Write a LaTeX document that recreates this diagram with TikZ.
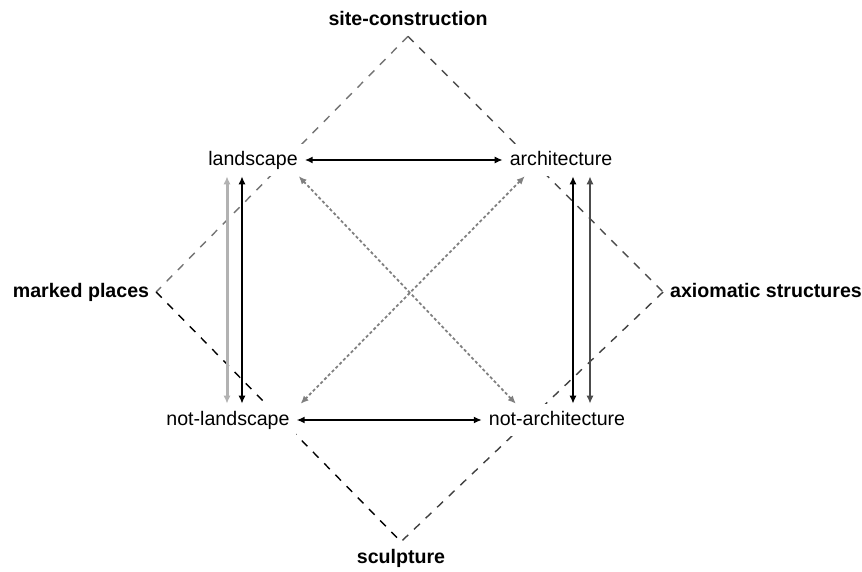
\documentclass[tikz,border=0pt]{standalone}
\usepackage{fontspec}
\setmainfont{Liberation Sans}
\usetikzlibrary{positioning,arrows.meta}

\begin{document}
\begin{tikzpicture}[
            x=0.5pt, y=-0.5pt,
            >={Latex[length=4pt,width=3.5pt]},
            term/.style={font=\fontsize{9.8}{11}\selectfont, text height=7.2pt, text depth=2pt, fill=white},
            corner/.style={term, font=\fontsize{9.8}{11}\selectfont\bfseries, fill=none},
            link/.style={dash pattern=on 4pt off 4pt, line width=0.7pt},
            cross/.style={<->, gray, line width=0.9pt, dash pattern=on 1.5pt off 1.2pt}
        ]
            \useasboundingbox (0,0) rectangle (862,572);

            \node[corner] (site) at (408,20) {site-construction};
            \node[corner] (marked) at (81,292) {marked places};
            \node[corner] (axiom) at (766,292) {axiomatic structures};
            \node[corner] (sculpt) at (401,558) {sculpture};

            % outer square of the expanded field
            \draw[link, black!55] (site.south) -- (marked.east);
            \draw[link, black!70] (site.south) -- (axiom.west);
            \draw[link, black] (marked.east) -- (sculpt.north);
            \draw[link, black!75] (axiom.west) -- (sculpt.north);

            \node[term] (land) at (253,160) {landscape};
            \node[term] (arch) at (561,160) {architecture};
            \node[term] (notland) at (228,420) {not-landscape};
            \node[term] (notarch) at (557,420) {not-architecture};

            \draw[<->, line width=1.1pt] (land) -- (arch);
            \draw[<->, line width=1.1pt] (notland) -- (notarch);

            \draw[<->, black!30, line width=1.5pt] ([xshift=-13pt]land.south) -- ([xshift=-13pt]land.south |- notland.north);
            \draw[<->, line width=1pt] ([xshift=-5.5pt]land.south) -- ([xshift=-5.5pt]land.south |- notland.north);
            \draw[<->, line width=1pt] ([xshift=6pt]arch.south) -- ([xshift=6pt]arch.south |- notarch.north);
            \draw[<->, black!70, line width=1pt] ([xshift=14.5pt]arch.south) -- ([xshift=14.5pt]arch.south |- notarch.north);

            \draw[cross] ([xshift=-3pt]land.south east) -- ([xshift=17pt]notarch.north west);
            \draw[cross] ([xshift=11pt]arch.south west) -- ([xshift=2pt]notland.north east);

        \end{tikzpicture}
\end{document}
